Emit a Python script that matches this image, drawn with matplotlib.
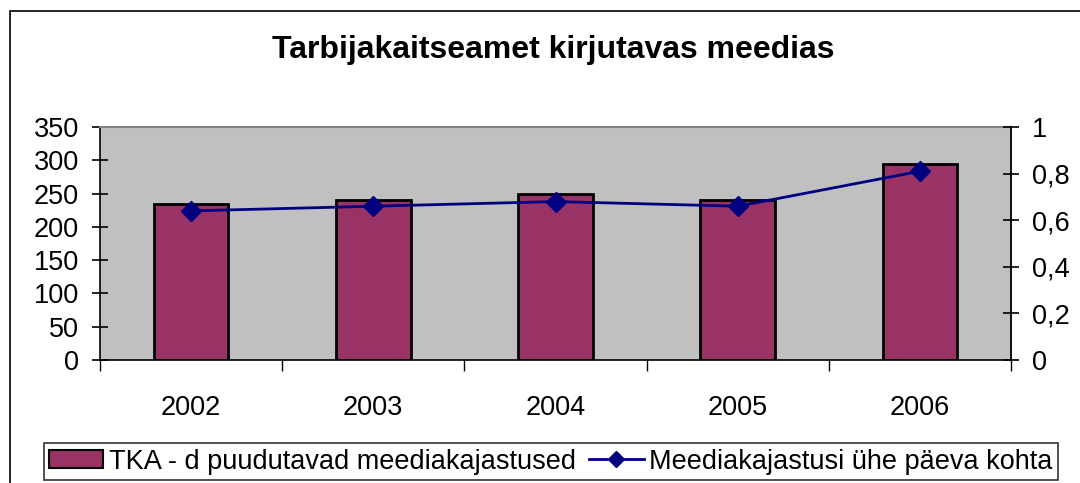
import numpy as np
import matplotlib
matplotlib.use("Agg")
import matplotlib.pyplot as plt
from matplotlib.patches import Rectangle
from matplotlib.lines import Line2D

plt.rcParams['font.family'] = ['Liberation Sans', 'DejaVu Sans']

years = ['2002', '2003', '2004', '2005', '2006']
kajastused = [235, 241, 249, 241, 295]
paeva_kohta = [0.64, 0.66, 0.68, 0.66, 0.81]
left_ticks = [0, 50, 100, 150, 200, 250, 300, 350]
right_ticks = [0, 0.2, 0.4, 0.6, 0.8, 1.0]
right_labels = ['0', '0,2', '0,4', '0,6', '0,8', '1']

bar_color = '#993366'
line_color = '#000080'
fs = 19.5

fig = plt.figure(figsize=(10.8, 4.83), dpi=100)
fig.patches.append(Rectangle((10 / 1080, -0.1), 1.2, 1.1 - 11 / 483,
                             transform=fig.transFigure, fill=False,
                             edgecolor='black', linewidth=1.2))

ax = fig.add_axes([100 / 1080, 1 - 360 / 483, 911 / 1080, 233 / 483])
ax.set_facecolor('#C0C0C0')
x = np.arange(len(years))
ax.bar(x, kajastused, width=0.41, color=bar_color, edgecolor='black',
       linewidth=2, zorder=2)
ax.set_xlim(-0.5, len(years) - 0.5)
ax.set_ylim(0, 350)
ax.set_yticks(left_ticks)
ax.set_xticks(x)
ax.set_xticklabels(years)
ax.set_xticks(np.arange(len(years) + 1) - 0.5, minor=True)
ax.tick_params(axis='x', which='major', length=0, pad=25, labelsize=fs)
ax.tick_params(axis='x', which='minor', length=8, direction='out', width=1)
ax.tick_params(axis='y', direction='inout', length=12, width=1.2, pad=9,
               labelsize=fs)
for s in ['top', 'right']:
    ax.spines[s].set_color('#808080')
    ax.spines[s].set_linewidth(1.5)
ax.spines['left'].set_linewidth(1.2)
ax.spines['bottom'].set_linewidth(1.2)

ax2 = ax.twinx()
ax2.plot(x, paeva_kohta, color=line_color, linewidth=2, marker='D',
         markersize=10, zorder=3)
ax2.set_ylim(0, 1)
ax2.set_yticks(right_ticks)
ax2.set_yticklabels(right_labels)
ax2.tick_params(axis='y', direction='inout', length=12, width=1.2, pad=9,
                labelsize=fs)
ax2.spines['right'].set_color('black')
ax2.spines['right'].set_linewidth(1.2)
for s in ['top', 'left', 'bottom']:
    ax2.spines[s].set_visible(False)

fig.text(0.512, 1 - 50 / 483, 'Tarbijakaitseamet kirjutavas meedias',
         ha='center', va='center', fontsize=23, fontweight='bold')

handles = [Rectangle((0, 0), 1, 1, facecolor=bar_color, edgecolor='black',
                     linewidth=1.5),
           Line2D([], [], color=line_color, linewidth=2, marker='D',
                  markersize=8)]
leg = fig.legend(handles, ['TKA - d puudutavad meediakajastused',
                           'Meediakajastusi ühe päeva kohta'],
                 loc='lower center', bbox_to_anchor=(0.51, -0.005), ncol=2,
                 fontsize=fs, frameon=True, fancybox=False, edgecolor='black',
                 handlelength=2.0, handleheight=0.65, handletextpad=0.2,
                 columnspacing=0.5, borderpad=0.2, borderaxespad=0.2)
leg.get_frame().set_linewidth(1.2)

fig.savefig('out.png', dpi=100)
